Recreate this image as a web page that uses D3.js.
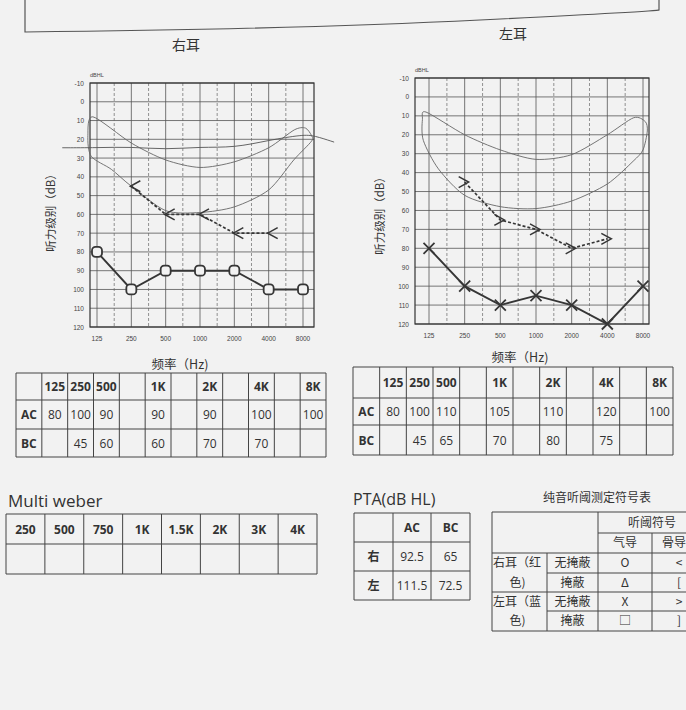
<!DOCTYPE html>
<html>
<head>
<meta charset="utf-8">
<script src="https://cdn.jsdelivr.net/npm/d3@7"></script>
<style>
  html, body { margin: 0; padding: 0; background: #f2f2f2; }
  svg { display: block; }
  .cjk { font-family: "Noto Sans CJK SC", sans-serif; }
</style>
</head>
<body>
<div id="chart"></div>
<script>
// audiogram frequencies (Hz) and hearing levels (dB HL)
const freqs = [125, 250, 500, 1000, 2000, 4000, 8000];
const freqLabels = ["125", "250", "500", "1000", "2000", "4000", "8000"];
const halfFreqs = [177, 354, 707, 1414, 2828, 5657];
const dbTicks = [-10, 0, 10, 20, 30, 40, 50, 60, 70, 80, 90, 100, 110, 120];

// right ear (右耳)
const rightAC = [80, 100, 90, 90, 90, 100, 100];
const rightBC = [null, 45, 60, 60, 70, 70, null];
// left ear (左耳)
const leftAC = [80, 100, 110, 105, 110, 120, 100];
const leftBC = [null, 45, 65, 70, 80, 75, null];

// printed "speech banana" outlines, [Hz, dB]
const bananaRight = [[115, 8], [250, 22], [500, 31], [1000, 35], [2000, 32], [4000, 24.5],
  [6700, 15], [8400, 14], [9500, 18], [9500, 21], [6640, 31], [4000, 47], [2000, 56],
  [1000, 59], [500, 58], [250, 45], [167, 36], [111, 29], [104, 18]];
const bananaLeft = [[118, 8], [250, 20], [500, 28], [1000, 33], [2000, 30.5], [4000, 20],
  [6670, 11], [8350, 13], [8700, 18], [8000, 28], [6600, 34], [4000, 46], [2000, 55],
  [1000, 59], [500, 58], [250, 52], [150, 38], [112, 23], [110, 12]];
// line drawn across the right-ear chart
const wave = [[62, 24.5], [125, 24.5], [250, 24], [500, 25.5], [1000, 24], [2000, 24.5],
  [4000, 20.5], [8000, 17.5], [10000, 18], [15000, 21.5]];

// tables
const tableCols = ["", "125", "250", "500", "", "1K", "", "2K", "", "4K", "", "8K"];
const rightTableAC = ["AC", "80", "100", "90", "", "90", "", "90", "", "100", "", "100"];
const rightTableBC = ["BC", "", "45", "60", "", "60", "", "70", "", "70", "", ""];
const leftTableAC = ["AC", "80", "100", "110", "", "105", "", "110", "", "120", "", "100"];
const leftTableBC = ["BC", "", "45", "65", "", "70", "", "80", "", "75", "", ""];
const weberCols = ["250", "500", "750", "1K", "1.5K", "2K", "3K", "4K"];
const ptaCols = ["", "AC", "BC"];
const ptaRows = [["右", "92.5", "65"], ["左", "111.5", "72.5"]];

const W = 686, H = 710;
const ink = "#363636";
const bg = "#f2f2f2";
const svg = d3.select("#chart").append("svg").attr("width", W).attr("height", H);

svg.append("rect").attr("width", W).attr("height", H).attr("fill", bg);

// page frame at the top
svg.append("path")
  .attr("d", "M25,0 L25,32 Q300,29 480,20 T659,10 L659,0")
  .attr("fill", "none").attr("stroke", "#555").attr("stroke-width", 1.2);

function drawAudiogram(cfg) {
  const g = svg.append("g");
  const x = d3.scaleLog().base(2).domain([125, 8000]).range(cfg.xr);
  const y = d3.scaleLinear().domain([-10, 120]).range(cfg.yr);
  const [bx0, bx1] = cfg.box;

  g.selectAll(".hgrid").data(dbTicks).join("line")
    .attr("x1", bx0).attr("x2", bx1)
    .attr("y1", d => y(d)).attr("y2", d => y(d))
    .attr("stroke", "#555").attr("stroke-width", 0.8);
  g.selectAll(".vgrid").data(freqs).join("line")
    .attr("x1", d => x(d)).attr("x2", d => x(d))
    .attr("y1", y(-10)).attr("y2", y(120))
    .attr("stroke", "#555").attr("stroke-width", 0.8);
  g.selectAll(".vhalf").data(halfFreqs).join("line")
    .attr("x1", d => x(d)).attr("x2", d => x(d))
    .attr("y1", y(-10)).attr("y2", y(120))
    .attr("stroke", "#666").attr("stroke-width", 0.7)
    .attr("stroke-dasharray", "3,2");
  g.append("rect")
    .attr("x", bx0).attr("y", y(-10))
    .attr("width", bx1 - bx0).attr("height", y(120) - y(-10))
    .attr("fill", "none").attr("stroke", "#333").attr("stroke-width", 1.2);

  g.selectAll(".ylab").data(dbTicks).join("text")
    .attr("x", cfg.ylabX).attr("y", d => y(d) + 2.5)
    .attr("text-anchor", "end")
    .attr("font-family", "Liberation Sans, Arial, sans-serif")
    .attr("font-size", 6.5).attr("fill", "#444")
    .text(d => d);
  g.selectAll(".xlab").data(freqs).join("text")
    .attr("x", d => x(d)).attr("y", y(120) + 14)
    .attr("text-anchor", "middle")
    .attr("font-family", "Liberation Sans, Arial, sans-serif")
    .attr("font-size", 6.5).attr("fill", "#444")
    .text((d, i) => freqLabels[i]);
  g.append("text").attr("x", bx0).attr("y", y(-10) - 6)
    .attr("font-family", "Liberation Sans, Arial, sans-serif")
    .attr("font-size", 5.5).attr("fill", "#444").text("dBHL");

  const curve = d3.line().x(d => x(d[0])).y(d => y(d[1]));
  g.append("path").datum(cfg.banana)
    .attr("d", curve.curve(d3.curveCardinalClosed.tension(0.2)))
    .attr("fill", "none").attr("stroke", "#666").attr("stroke-width", 0.9);
  if (cfg.wave) {
    g.append("path").datum(cfg.wave)
      .attr("d", d3.line().x(d => x(d[0])).y(d => y(d[1])).curve(d3.curveBasis))
      .attr("fill", "none").attr("stroke", "#555").attr("stroke-width", 0.9);
  }

  // bone conduction, dashed
  const bc = freqs.map((f, i) => [f, cfg.bc[i]]).filter(d => d[1] != null);
  g.append("path").datum(bc)
    .attr("d", d3.line().x(d => x(d[0])).y(d => y(d[1])))
    .attr("fill", "none").attr("stroke", ink).attr("stroke-width", 1.7)
    .attr("stroke-dasharray", "3,2");
  const dir = cfg.bcSymbol === "<" ? 1 : -1;
  g.selectAll(".bc").data(bc).join("path")
    .attr("d", d => {
      const px = x(d[0]) + (dir > 0 ? -1 : 4), py = y(d[1]);
      return `M${px + dir * 10},${py - 5.5} L${px},${py} L${px + dir * 10},${py + 5.5}`;
    })
    .attr("fill", "none").attr("stroke", ink).attr("stroke-width", 1.5);

  // air conduction, solid
  const ac = freqs.map((f, i) => [f, cfg.ac[i]]);
  g.append("path").datum(ac)
    .attr("d", d3.line().x(d => x(d[0])).y(d => y(d[1])))
    .attr("fill", "none").attr("stroke", ink).attr("stroke-width", 1.9);
  if (cfg.acSymbol === "O") {
    g.selectAll(".ac").data(ac).join("rect")
      .attr("x", d => x(d[0]) - 5).attr("y", d => y(d[1]) - 5)
      .attr("width", 10).attr("height", 10).attr("rx", 3.5)
      .attr("fill", bg).attr("stroke", ink).attr("stroke-width", 1.8);
  } else {
    g.selectAll(".ac").data(ac).join("path")
      .attr("d", d => {
        const px = x(d[0]), py = y(d[1]);
        return `M${px - 5.5},${py - 5.5} L${px + 5.5},${py + 5.5} M${px + 5.5},${py - 5.5} L${px - 5.5},${py + 5.5}`;
      })
      .attr("fill", "none").attr("stroke", ink).attr("stroke-width", 1.8);
  }

  svg.append("text").attr("class", "cjk")
    .attr("transform", `translate(${cfg.yTitle[0]},${cfg.yTitle[1]}) rotate(-90)`)
    .attr("text-anchor", "middle").attr("font-size", 11.5).attr("fill", "#333")
    .text("听力级别（dB）");
  svg.append("text").attr("class", "cjk")
    .attr("x", cfg.xTitle[0]).attr("y", cfg.xTitle[1])
    .attr("text-anchor", "middle").attr("font-size", 12.5).attr("fill", "#333")
    .text("频率（Hz)");
  svg.append("text").attr("class", "cjk")
    .attr("x", cfg.title[0]).attr("y", cfg.title[1])
    .attr("text-anchor", "middle").attr("font-size", 14).attr("fill", "#333")
    .text(cfg.titleText);
}

drawAudiogram({
  xr: [97, 303], yr: [83, 327], box: [90, 314], ylabX: 84,
  ac: rightAC, bc: rightBC, acSymbol: "O", bcSymbol: "<",
  banana: bananaRight, wave: wave,
  yTitle: [55, 210], xTitle: [180, 369], title: [186, 50], titleText: "右耳"
});
drawAudiogram({
  xr: [429, 643], yr: [78, 324], box: [415, 649], ylabX: 409,
  ac: leftAC, bc: leftBC, acSymbol: "X", bcSymbol: ">",
  banana: bananaLeft, wave: null,
  yTitle: [384, 213], xTitle: [520, 362], title: [513, 39], titleText: "左耳"
});

// generic grid table
function drawTable(x0, x1, rowsY, rows, opts = {}) {
  const g = svg.append("g");
  const n = rows[0].length;
  const colX = opts.colX || d3.range(n + 1).map(i => x0 + (x1 - x0) * i / n);
  rowsY.forEach(yy => g.append("line").attr("x1", colX[0]).attr("x2", colX[n])
    .attr("y1", yy).attr("y2", yy).attr("stroke", "#444").attr("stroke-width", 1));
  colX.forEach(xx => g.append("line").attr("x1", xx).attr("x2", xx)
    .attr("y1", rowsY[0]).attr("y2", rowsY[rowsY.length - 1])
    .attr("stroke", "#444").attr("stroke-width", 1));
  rows.forEach((row, r) => row.forEach((t, c) => {
    if (!t) return;
    const bold = (opts.boldRow0 && r === 0) || (opts.boldCol0 && c === 0);
    g.append("text")
      .attr("x", (colX[c] + colX[c + 1]) / 2)
      .attr("y", (rowsY[r] + rowsY[r + 1]) / 2 + 4.5)
      .attr("text-anchor", "middle")
      .attr("font-family", /[\u4e00-\u9fff]/.test(t) ? "Noto Sans CJK SC" : "Open Sans, sans-serif")
      .attr("font-size", opts.fontSize || 12)
      .attr("font-weight", bold ? 700 : 400)
      .attr("fill", "#333")
      .text(t);
  }));
}

drawTable(16, 326, [373, 400, 429, 457], [tableCols, rightTableAC, rightTableBC],
  { boldRow0: true, boldCol0: true });
drawTable(353, 673, [367, 398, 425, 455], [tableCols, leftTableAC, leftTableBC],
  { boldRow0: true, boldCol0: true });
drawTable(6, 317, [514, 544, 574], [weberCols, weberCols.map(() => "")],
  { boldRow0: true });
drawTable(354, 470, [513, 542, 571, 600], [ptaCols, ...ptaRows],
  { boldRow0: true, boldCol0: true, colX: [354, 393, 431, 470] });

svg.append("text").attr("x", 8).attr("y", 507)
  .attr("font-family", "Open Sans, sans-serif").attr("font-size", 17).attr("fill", "#333")
  .text("Multi weber");
svg.append("text").attr("x", 353).attr("y", 505)
  .attr("font-family", "Open Sans, sans-serif").attr("font-size", 16).attr("fill", "#333")
  .text("PTA(dB HL)");

// symbol legend table (runs off the right edge as in the photo)
const symCols = [492, 547, 598, 652, 706];
const symRows = [512, 533, 553, 573, 592, 611, 631];
const symbolRows = [
  ["无掩蔽", "O", "<"], ["掩蔽", "Δ", "["], ["无掩蔽", "X", ">"], ["掩蔽", "□", "]"]
];
const earLabels = [["右耳（红", "色)"], ["左耳（蓝", "色)"]];
const sg = svg.append("g").attr("class", "cjk");
const sline = (x1, y1, x2, y2) => sg.append("line").attr("x1", x1).attr("y1", y1)
  .attr("x2", x2).attr("y2", y2).attr("stroke", "#444").attr("stroke-width", 1);
sline(symCols[0], symRows[0], symCols[4], symRows[0]);
sline(symCols[2], symRows[1], symCols[4], symRows[1]);
sline(symCols[0], symRows[2], symCols[4], symRows[2]);
sline(symCols[1], symRows[3], symCols[4], symRows[3]);
sline(symCols[0], symRows[4], symCols[4], symRows[4]);
sline(symCols[1], symRows[5], symCols[4], symRows[5]);
sline(symCols[0], symRows[6], symCols[4], symRows[6]);
sline(symCols[0], symRows[0], symCols[0], symRows[6]);
sline(symCols[1], symRows[2], symCols[1], symRows[6]);
sline(symCols[2], symRows[0], symCols[2], symRows[6]);
sline(symCols[3], symRows[1], symCols[3], symRows[6]);
const stext = (t, cx, cy, anchor = "middle") => sg.append("text")
  .attr("x", cx).attr("y", cy + 4.3).attr("text-anchor", anchor)
  .attr("font-size", 12).attr("fill", "#333").text(t);
stext("纯音听阈测定符号表", 597, 498);
stext("听阈符号", (symCols[2] + symCols[4]) / 2, (symRows[0] + symRows[1]) / 2);
stext("气导", (symCols[2] + symCols[3]) / 2, (symRows[1] + symRows[2]) / 2);
stext("骨导", 662, (symRows[1] + symRows[2]) / 2, "start");
symbolRows.forEach((row, i) => {
  const cy = (symRows[i + 2] + symRows[i + 3]) / 2;
  row.forEach((t, c) => stext(t, (symCols[c + 1] + symCols[c + 2]) / 2, cy));
});
earLabels.forEach((lab, i) => {
  stext(lab[0], symCols[0] + 1, (symRows[2 + 2 * i] + symRows[3 + 2 * i]) / 2, "start");
  stext(lab[1], (symCols[0] + symCols[1]) / 2 - 2, (symRows[3 + 2 * i] + symRows[4 + 2 * i]) / 2);
});
</script>
</body>
</html>
